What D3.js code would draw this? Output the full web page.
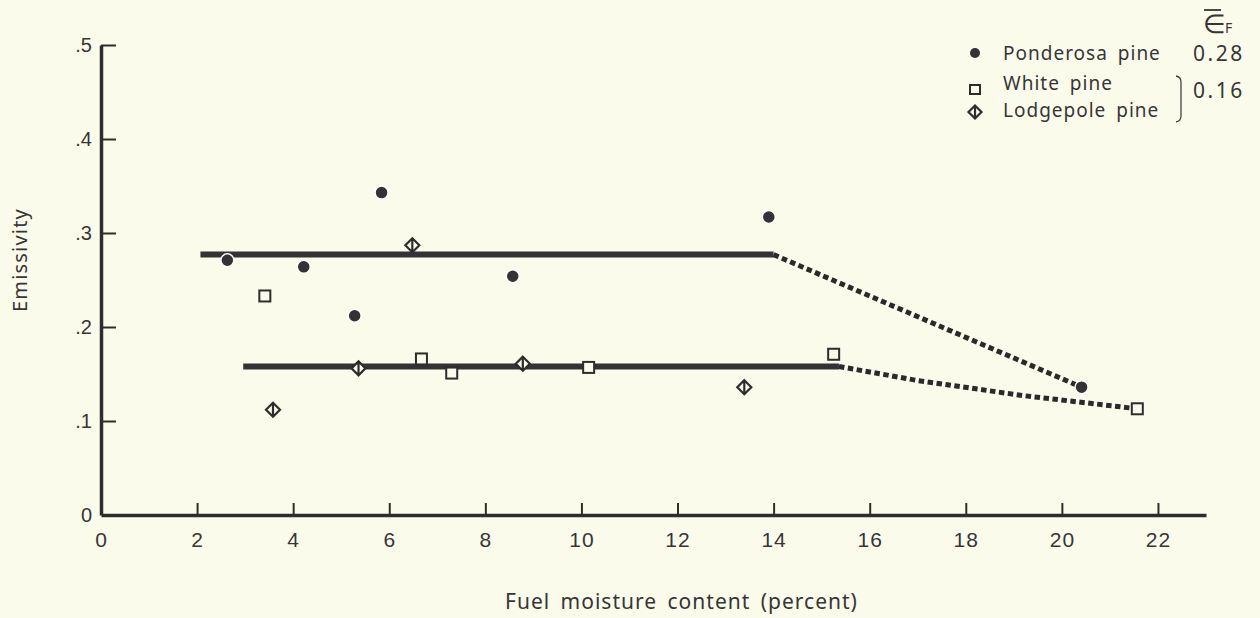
<!DOCTYPE html>
<html>
<head>
<meta charset="utf-8">
<script src="https://cdn.jsdelivr.net/npm/d3@7"></script>
<style>
  html, body { margin: 0; padding: 0; background: #fbfbec; }
  svg { display: block; font-family: "Noto Sans", sans-serif; }
  text { fill: #363636; }
</style>
</head>
<body>
<div class="chart-container"></div>
<script>
// tick values and labels
const xTickValues = [0, 2, 4, 6, 8, 10, 12, 14, 16, 18, 20, 22];
const xTickLabels = ["0", "2", "4", "6", "8", "10", "12", "14", "16", "18", "20", "22"];
const yTickValues = [0, 0.1, 0.2, 0.3, 0.4, 0.5];
const yTickLabels = ["0", ".1", ".2", ".3", ".4", ".5"];

// measured points [moisture %, emissivity]
const ponderosa = [[2.63, 0.271], [4.22, 0.264], [5.28, 0.212], [5.84, 0.343], [8.57, 0.254], [13.9, 0.317], [20.41, 0.136]];
const whitePine = [[3.41, 0.233], [6.67, 0.166], [7.30, 0.151], [10.15, 0.157], [15.25, 0.171], [21.57, 0.113]];
const lodgepole = [[3.58, 0.112], [5.36, 0.156], [6.48, 0.287], [8.78, 0.161], [13.39, 0.136]];

// fitted means and extrapolated trends
const ponderosaMean = [[2.07, 0.277], [14.0, 0.277]];
const ponderosaTrend = [[14.0, 0.277], [20.41, 0.136]];
const otherMean = [[2.96, 0.158], [15.36, 0.158]];
const otherTrend = [[15.36, 0.158], [17.0, 0.143], [19.2, 0.127], [21.57, 0.113]];

const legendNames = ["Ponderosa pine", "White pine", "Lodgepole pine"];
const legendMeans = ["0.28", "0.16"];

const W = 1260, H = 618;
const ink = "#2d2d2d";
const paper = "#fbfbec";

const svg = d3.select(".chart-container")
    .append("svg")
    .attr("width", W)
    .attr("height", H);

const x = d3.scaleLinear().domain([0, 23]).range([101, 1206]);
const y = d3.scaleLinear().domain([0, 0.5]).range([515, 45]);

// axes, ticks point into the plot
const xAxis = svg.append("g")
    .attr("transform", `translate(0,${y(0)})`)
    .call(d3.axisBottom(x).tickValues(xTickValues)
        .tickFormat((d, i) => xTickLabels[i])
        .tickSizeInner(-12).tickSizeOuter(0).tickPadding(17));

const yAxis = svg.append("g")
    .attr("transform", `translate(${x(0)},0)`)
    .call(d3.axisLeft(y).tickValues(yTickValues)
        .tickFormat((d, i) => yTickLabels[i])
        .tickSizeInner(-15).tickSizeOuter(0).tickPadding(9));

xAxis.select(".domain").attr("stroke", ink).attr("stroke-width", 3.5);
yAxis.select(".domain").attr("stroke", ink).attr("stroke-width", 3.5);
svg.selectAll(".tick line").attr("stroke", ink).attr("stroke-width", 2);
xAxis.selectAll(".tick text").attr("font-size", 21).attr("fill", "#363636").attr("letter-spacing", 1);
yAxis.selectAll(".tick text").attr("font-size", 20).attr("fill", "#363636");
// zero ticks sit on the other axis
xAxis.selectAll(".tick").filter(d => d === 0).select("line").remove();
yAxis.selectAll(".tick").filter(d => d === 0).select("line").remove();

// axis titles
svg.append("text")
    .attr("x", 505).attr("y", 609)
    .attr("font-size", 21).attr("letter-spacing", 1).attr("word-spacing", 4)
    .text("Fuel moisture content (percent)");

svg.append("text")
    .attr("transform", `translate(27,260) rotate(-90)`)
    .attr("text-anchor", "middle")
    .attr("font-size", 20).attr("letter-spacing", 1.2)
    .text("Emissivity");

// lines
const line = d3.line().x(d => x(d[0])).y(d => y(d[1]));

[ponderosaMean, otherMean].forEach(seg => {
    svg.append("path")
        .attr("d", line(seg))
        .attr("fill", "none")
        .attr("stroke", "#333")
        .attr("stroke-width", 6);
});

[ponderosaTrend, otherTrend].forEach(seg => {
    svg.append("path")
        .attr("d", line(seg))
        .attr("fill", "none")
        .attr("stroke", "#2a2a2a")
        .attr("stroke-width", 5)
        .attr("stroke-dasharray", "5.5,3.5");
});

// diamond with a vertical bar through it
function diamondPath(cx, cy, r) {
    return `M${cx},${cy - r}L${cx + r},${cy}L${cx},${cy + r}L${cx - r},${cy}Z` +
        `M${cx},${cy - r}L${cx},${cy + r}`;
}

svg.append("g").selectAll("rect")
    .data(whitePine)
    .enter()
    .append("rect")
    .attr("x", d => x(d[0]) - 5.5)
    .attr("y", d => y(d[1]) - 5.5)
    .attr("width", 11).attr("height", 11)
    .attr("fill", paper)
    .attr("stroke", ink).attr("stroke-width", 2);

svg.append("g").selectAll("path")
    .data(lodgepole)
    .enter()
    .append("path")
    .attr("d", d => diamondPath(x(d[0]), y(d[1]), 7))
    .attr("fill", paper)
    .attr("stroke", ink).attr("stroke-width", 2.2);

svg.append("g").selectAll("circle")
    .data(ponderosa)
    .enter()
    .append("circle")
    .attr("cx", d => x(d[0]))
    .attr("cy", d => y(d[1]))
    .attr("r", 6.5)
    .attr("fill", "#333")
    .attr("stroke", "#fff").attr("stroke-width", 1.5);

// legend
const lg = svg.append("g");
const rowY = [53, 83, 110];
const lx = 975;

lg.append("circle").attr("cx", lx).attr("cy", rowY[0]).attr("r", 5).attr("fill", "#333");
lg.append("rect").attr("x", lx - 5).attr("y", rowY[1] + 2).attr("width", 10).attr("height", 9)
    .attr("fill", "none").attr("stroke", ink).attr("stroke-width", 2);
lg.append("path").attr("d", diamondPath(lx, rowY[2] + 2, 6.5))
    .attr("fill", "none").attr("stroke", ink).attr("stroke-width", 2.2);

lg.selectAll("text.name")
    .data(legendNames)
    .enter()
    .append("text")
    .attr("class", "name")
    .attr("x", 1003)
    .attr("y", (d, i) => rowY[i] + 7)
    .attr("font-size", 19).attr("letter-spacing", 1).attr("word-spacing", 4)
    .text(d => d);

lg.append("text").attr("x", 1193).attr("y", rowY[0] + 8)
    .attr("font-size", 21).attr("letter-spacing", 2.5).text(legendMeans[0]);
lg.append("text").attr("x", 1193).attr("y", 98)
    .attr("font-size", 21).attr("letter-spacing", 2.5).text(legendMeans[1]);

// bracket grouping white and lodgepole pine
lg.append("path")
    .attr("d", "M1176,76Q1181,77 1181,82L1181,116Q1181,121 1176,122")
    .attr("fill", "none").attr("stroke", "#444").attr("stroke-width", 1.3);

// epsilon-bar sub F heading
lg.append("text").attr("x", 1203).attr("y", 33).attr("font-size", 26).text("\u2208");
lg.append("line").attr("x1", 1204).attr("x2", 1221).attr("y1", 10).attr("y2", 10)
    .attr("stroke", "#333").attr("stroke-width", 1.8);
lg.append("text").attr("x", 1225).attr("y", 33).attr("font-size", 14).text("F");
</script>
</body>
</html>
